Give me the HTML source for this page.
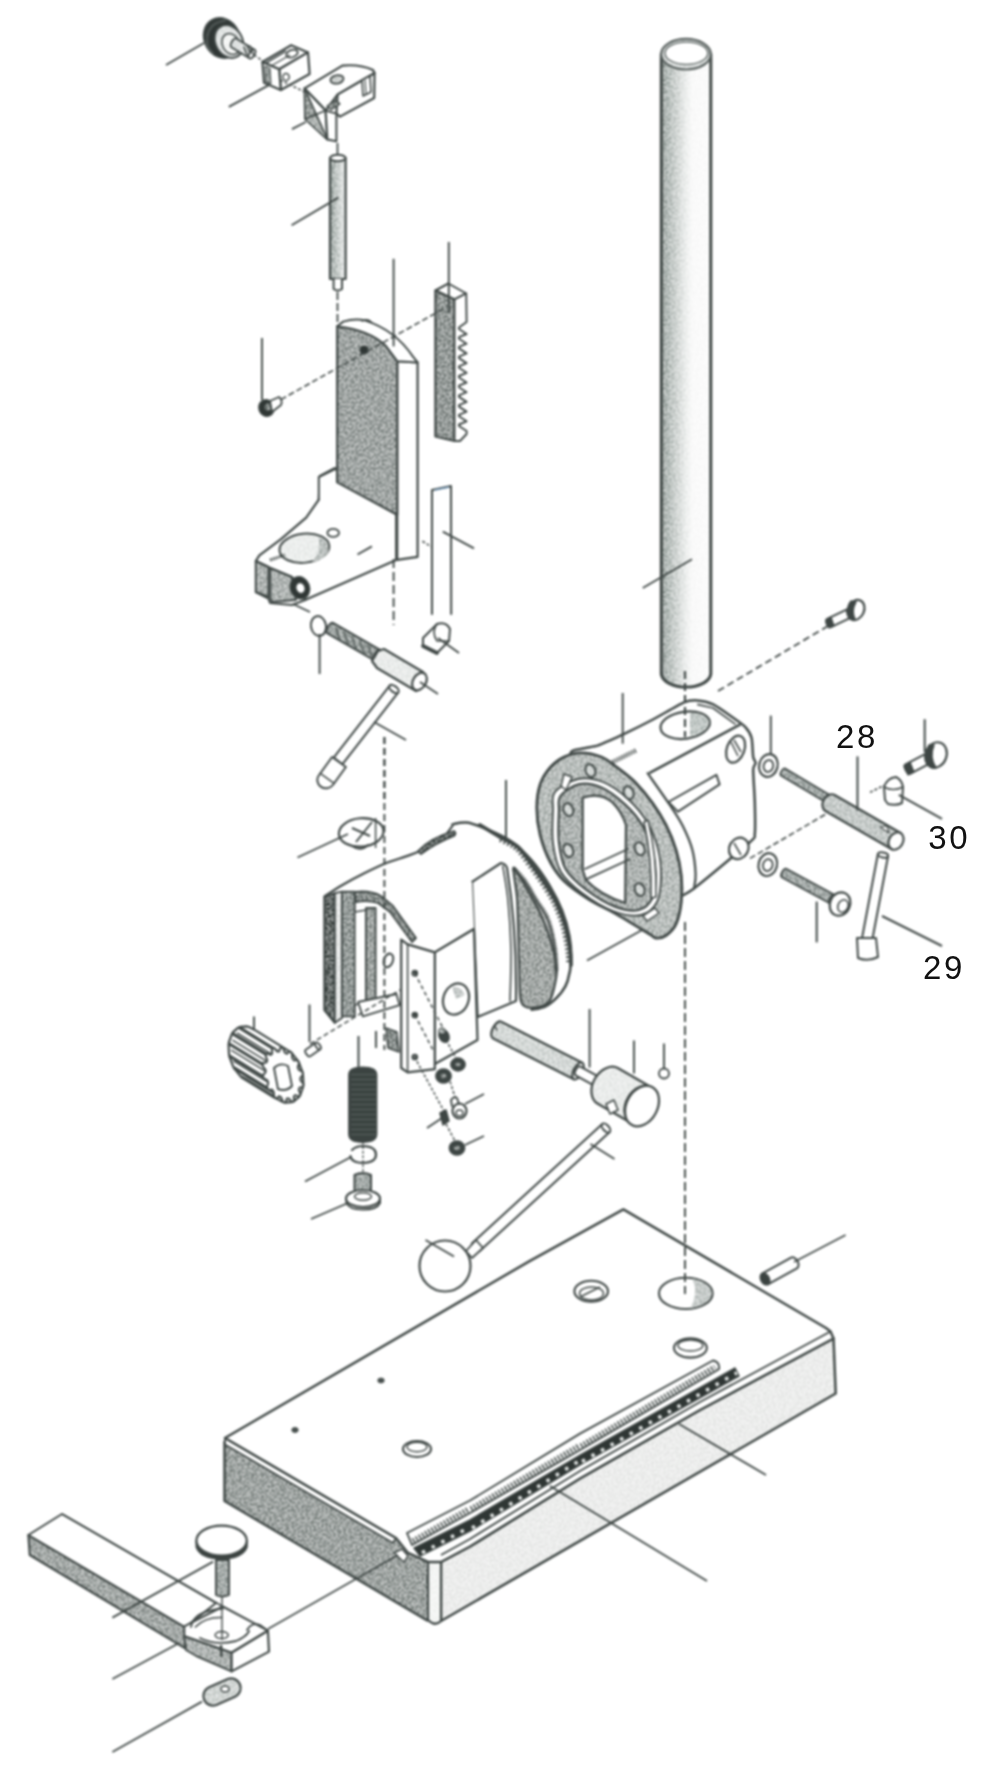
<!DOCTYPE html><html><head><meta charset="utf-8"><style>html,body{margin:0;padding:0;background:#fff;}svg{display:block}</style></head><body><svg width="1000" height="1775" viewBox="0 0 1000 1775"><defs>
<linearGradient id="gcol" x1="0" y1="0" x2="1" y2="0">
<stop offset="0" stop-color="#a4aba8"/><stop offset="0.12" stop-color="#b8bfbc"/><stop offset="0.32" stop-color="#d6dad8"/><stop offset="0.5" stop-color="#eff1f0"/><stop offset="0.62" stop-color="#fbfbfb"/><stop offset="1" stop-color="#fdfdfd"/>
</linearGradient>
<linearGradient id="grod" x1="0" y1="0" x2="1" y2="0">
<stop offset="0" stop-color="#a3aba8"/><stop offset="0.5" stop-color="#cdd2d0"/><stop offset="1" stop-color="#f2f3f3"/>
</linearGradient>
<filter id="fst" x="0%" y="0%" width="100%" height="100%" color-interpolation-filters="sRGB">
<feTurbulence type="fractalNoise" baseFrequency="0.5" numOctaves="2" seed="4" result="t0"/>
<feGaussianBlur in="t0" stdDeviation="0.6" result="t"/>
<feColorMatrix in="t" type="matrix" values="0 0 0 0 0  0 0 0 0 0  0 0 0 0 0  3.2 0 0 0 -1.45" result="m"/>
<feComponentTransfer in="SourceGraphic" result="lt"><feFuncR type="linear" slope="0.45" intercept="0.55"/><feFuncG type="linear" slope="0.45" intercept="0.55"/><feFuncB type="linear" slope="0.45" intercept="0.55"/></feComponentTransfer>
<feComposite in="lt" in2="m" operator="in" result="wm"/>
<feColorMatrix in="t" type="matrix" values="0 0 0 0 0  0 0 0 0 0  0 0 0 0 0  -3.2 0 0 0 1.75" result="m2"/>
<feComponentTransfer in="SourceGraphic" result="dk"><feFuncR type="linear" slope="1.7" intercept="-0.72"/><feFuncG type="linear" slope="1.7" intercept="-0.72"/><feFuncB type="linear" slope="1.7" intercept="-0.72"/></feComponentTransfer>
<feComposite in="dk" in2="m2" operator="in" result="dm"/>
<feMerge result="all"><feMergeNode in="SourceGraphic"/><feMergeNode in="wm"/><feMergeNode in="dm"/></feMerge>
<feComposite in="all" in2="SourceAlpha" operator="in"/>
</filter>
<filter id="gblur" x="0" y="0" width="1000" height="1775" filterUnits="userSpaceOnUse" color-interpolation-filters="sRGB"><feGaussianBlur stdDeviation="0.9"/></filter>
</defs><g filter="url(#gblur)"><path d="M661.3,54 L661.3,674 A24.8,14 0 0 0 710.8,674 L710.8,54 Z" fill="url(#gcol)" stroke="#404846" stroke-width="0" filter="url(#fst)" stroke-linejoin="round" stroke-linecap="round"/>
<path d="M661.3,54 L661.3,674 A24.8,14 0 0 0 710.8,674 L710.8,54 Z" fill="none" stroke="#404846" stroke-width="3"  stroke-linejoin="round" stroke-linecap="round"/>
<ellipse cx="686" cy="54.2" rx="24.8" ry="15.3" fill="#e3e6e5" stroke="none" filter="url(#fst)"/>
<ellipse cx="686" cy="54.2" rx="24.8" ry="15.3" fill="none" stroke="#58605e" stroke-width="2.2"/>
<ellipse cx="686.4" cy="53.2" rx="21.4" ry="11.2" fill="#fff" stroke="#6b7371" stroke-width="1.5"/>
<line x1="642.8" y1="588" x2="692" y2="559.2" fill="none" stroke="#404846" stroke-width="1.9"/>
<path d="M570.4,753.6 C571.2,748.8 578.4,749.7 581.6,748.8 C584.8,747.9 594.4,746.5 597.6,745.6 C600.8,744.7 605.8,742.1 608.8,740.8 C611.8,739.5 618.2,736.8 623.2,734.4 C628.2,732 644.9,723.7 652,720 C659.1,716.3 678.7,704.7 684,702.4 C689.3,700.1 693.8,700.2 697.2,700.4 C700.6,700.6 709.1,702.4 713.2,704.4 C717.3,706.4 728.7,714.6 732.4,717.2 C736.1,719.8 743,724.4 745.2,726.8 C747.4,729.2 750.7,734.5 751.6,738 C752.5,741.5 752.7,754.1 753.2,757 C753.7,759.9 755.6,761.5 755.6,763 C755.6,764.5 753.3,765.5 753.2,770 C753.1,774.5 754.6,794.5 754.8,802 C755,809.5 755.4,829.3 754.8,834 C754.2,838.7 757.1,835.7 750,842 C742.9,848.3 703.1,881.6 694,888.4 C684.9,895.2 677.1,898.1 672,900 C666.9,901.9 657.2,909.7 650,905 C642.8,900.3 618.8,873.4 610,860 C601.2,846.6 579.6,802.4 575,790 C570.4,777.6 569.6,758.4 570.4,753.6Z" fill="#fff" stroke="#404846" stroke-width="2.5"  stroke-linejoin="round" stroke-linecap="round"/>
<polyline points="697.2,704.4 713,708 735.6,724.4" fill="none" stroke="#404846" stroke-width="1.6"  stroke-linejoin="round"/>
<line x1="649.2" y1="773.2" x2="740.4" y2="724.4" fill="none" stroke="#404846" stroke-width="2.5"/>
<ellipse cx="685.2" cy="725.2" rx="24.8" ry="13.5" transform="rotate(-8 685.2 725.2)" fill="#fff" stroke="#404846" stroke-width="2.2"/>
<path d="M690,713 Q706,712 709,722 Q707,733 690,737 Z" fill="#c4cac8" stroke="none" filter="url(#fst)"/>
<line x1="685" y1="671" x2="685" y2="737" fill="none" stroke="#404846" stroke-width="2.2" stroke-dasharray="8,4"/>
<polygon points="668.4,802 716.4,774.8 719.6,784.4 678,811.6" fill="#fff" stroke="#404846" stroke-width="2"  stroke-linejoin="round"/>
<path d="M647.6,773.2 C651.3,778.5 664.1,796.4 670,805.2 C675.9,814 679.1,818.5 682.8,826 C686.5,833.5 690.3,842 692.4,850 C694.5,858 695.3,867.6 695.6,874 C695.9,880.4 694.3,886 694,888.4" fill="none" stroke="#404846" stroke-width="2.2"  stroke-linejoin="round" stroke-linecap="round"/>
<ellipse cx="735.6" cy="749.2" rx="8.8" ry="14" transform="rotate(20 735.6 749.2)" fill="#fff" stroke="#404846" stroke-width="2.2"/>
<polyline points="731,742 738,756" fill="none" stroke="#404846" stroke-width="1.5"  stroke-linejoin="round"/>
<polyline points="734,740 741,752" fill="none" stroke="#404846" stroke-width="1.5"  stroke-linejoin="round"/>
<ellipse cx="738.8" cy="848.4" rx="9.5" ry="11" transform="rotate(30 738.8 848.4)" fill="#fff" stroke="#404846" stroke-width="2.2"/>
<polyline points="734,843 741,855" fill="none" stroke="#404846" stroke-width="1.5"  stroke-linejoin="round"/>
<path d="M536.8,808 C536.8,799.5 537.9,791 540.2,784.2 C542.5,777.4 546.4,771.7 550.4,767.2 C554.4,762.7 558.9,759.4 564,757 C569.1,754.6 574.8,752.8 581,752.8 C587.2,752.8 595.4,754.6 601.4,757 C607.4,759.4 611,763 616.7,767.2 C622.4,771.5 629.5,776.5 635.4,782.5 C641.3,788.5 647.3,795.8 652.4,802.9 C657.5,810 662,817.1 666,825 C670,832.9 673.7,842 676.2,850.5 C678.8,859 680.4,867.5 681.3,876 C682.1,884.5 682.1,893.6 681.3,901.5 C680.4,909.4 678.8,917.9 676.2,923.6 C673.7,929.3 669.4,933.1 666,935.5 C662.6,937.9 658.6,938.3 655.8,938 C653,937.7 655.8,937.9 649,933.8 C642.2,929.7 624.9,919.1 615,913.4 C605.1,907.7 598,905.2 589.5,899.8 C581,894.4 570.5,887.2 564,881 C557.5,874.8 554.4,870 550.4,862.4 C546.4,854.8 542.5,844.3 540.2,835.2 C537.9,826.1 536.8,816.5 536.8,808Z" fill="#bdc2c0" stroke="none" filter="url(#fst)"/>
<path d="M536.8,808 C536.8,799.5 537.9,791 540.2,784.2 C542.5,777.4 546.4,771.7 550.4,767.2 C554.4,762.7 558.9,759.4 564,757 C569.1,754.6 574.8,752.8 581,752.8 C587.2,752.8 595.4,754.6 601.4,757 C607.4,759.4 611,763 616.7,767.2 C622.4,771.5 629.5,776.5 635.4,782.5 C641.3,788.5 647.3,795.8 652.4,802.9 C657.5,810 662,817.1 666,825 C670,832.9 673.7,842 676.2,850.5 C678.8,859 680.4,867.5 681.3,876 C682.1,884.5 682.1,893.6 681.3,901.5 C680.4,909.4 678.8,917.9 676.2,923.6 C673.7,929.3 669.4,933.1 666,935.5 C662.6,937.9 658.6,938.3 655.8,938 C653,937.7 655.8,937.9 649,933.8 C642.2,929.7 624.9,919.1 615,913.4 C605.1,907.7 598,905.2 589.5,899.8 C581,894.4 570.5,887.2 564,881 C557.5,874.8 554.4,870 550.4,862.4 C546.4,854.8 542.5,844.3 540.2,835.2 C537.9,826.1 536.8,816.5 536.8,808Z" fill="none" stroke="#404846" stroke-width="2.8"  stroke-linejoin="round" stroke-linecap="round"/>
<path d="M555,792 C559.2,786.8 570,780.7 578,779 C586,777.3 594.7,778.7 603,782 C611.3,785.3 620.7,792.3 628,799 C635.3,805.7 642,813.7 647,822 C652,830.3 655.7,839.8 658,849 C660.3,858.2 661.2,868.2 661,877 C660.8,885.8 660.3,895.7 657,902 C653.7,908.3 648.3,913.5 641,915 C633.7,916.5 622.8,914.7 613,911 C603.2,907.3 590.7,899.5 582,893 C573.3,886.5 565.8,880.3 561,872 C556.2,863.7 554.3,853.3 553,843 C551.7,832.7 552.7,818.5 553,810 C553.3,801.5 550.8,797.2 555,792Z" fill="#fff" stroke="#404846" stroke-width="1.8"  stroke-linejoin="round" stroke-linecap="round"/>
<path d="M560.6,796 C564,791.5 572.5,785.6 579.3,784.2 C586.1,782.8 593.8,784.2 601.4,787.6 C609,791 618.4,798.4 625.2,804.6 C632,810.8 637.7,817.4 642.2,825 C646.7,832.6 650.1,842 652.4,850.5 C654.7,859 655.8,868.1 655.8,876 C655.8,883.9 655.2,892.4 652.4,898.1 C649.6,903.8 645,908.6 638.8,910 C632.6,911.4 623.8,910 615,906.6 C606.2,903.2 594.3,895.8 586.1,889.6 C577.9,883.4 570.2,877.1 565.7,869.2 C561.2,861.3 560,851.6 558.9,842 C557.8,832.4 558.6,819.1 558.9,811.4 C559.2,803.7 557.2,800.5 560.6,796Z" fill="#b3b8b6" stroke="none" filter="url(#fst)"/>
<path d="M560.6,796 C564,791.5 572.5,785.6 579.3,784.2 C586.1,782.8 593.8,784.2 601.4,787.6 C609,791 618.4,798.4 625.2,804.6 C632,810.8 637.7,817.4 642.2,825 C646.7,832.6 650.1,842 652.4,850.5 C654.7,859 655.8,868.1 655.8,876 C655.8,883.9 655.2,892.4 652.4,898.1 C649.6,903.8 645,908.6 638.8,910 C632.6,911.4 623.8,910 615,906.6 C606.2,903.2 594.3,895.8 586.1,889.6 C577.9,883.4 570.2,877.1 565.7,869.2 C561.2,861.3 560,851.6 558.9,842 C557.8,832.4 558.6,819.1 558.9,811.4 C559.2,803.7 557.2,800.5 560.6,796Z" fill="none" stroke="#404846" stroke-width="2.2"  stroke-linejoin="round" stroke-linecap="round"/>
<path d="M582.7,797.8 Q600,792 612,802 Q622,812 626,825 L625.2,903 Q600,895 586,880 L582.7,870 Z" fill="#fff" stroke="#404846" stroke-width="2.2"  stroke-linejoin="round" stroke-linecap="round"/>
<line x1="584.4" y1="869.2" x2="628.6" y2="848.8" fill="none" stroke="#404846" stroke-width="1.8"/>
<line x1="586" y1="879.4" x2="630.3" y2="859" fill="none" stroke="#404846" stroke-width="1.8"/>
<ellipse cx="590.4" cy="770.6" rx="4.8" ry="6.6" transform="rotate(-20 590.4 770.6)" fill="#d8dcda" stroke="none" filter="url(#fst)"/>
<ellipse cx="590.4" cy="770.6" rx="4.8" ry="6.6" transform="rotate(-20 590.4 770.6)" fill="none" stroke="#404846" stroke-width="2"/>
<ellipse cx="628.6" cy="792.7" rx="4.8" ry="6.6" transform="rotate(-20 628.6 792.7)" fill="#d8dcda" stroke="none" filter="url(#fst)"/>
<ellipse cx="628.6" cy="792.7" rx="4.8" ry="6.6" transform="rotate(-20 628.6 792.7)" fill="none" stroke="#404846" stroke-width="2"/>
<ellipse cx="568.3" cy="809.7" rx="4.8" ry="6.6" transform="rotate(-20 568.3 809.7)" fill="#d8dcda" stroke="none" filter="url(#fst)"/>
<ellipse cx="568.3" cy="809.7" rx="4.8" ry="6.6" transform="rotate(-20 568.3 809.7)" fill="none" stroke="#404846" stroke-width="2"/>
<ellipse cx="568.3" cy="850.5" rx="4.8" ry="6.6" transform="rotate(-20 568.3 850.5)" fill="#d8dcda" stroke="none" filter="url(#fst)"/>
<ellipse cx="568.3" cy="850.5" rx="4.8" ry="6.6" transform="rotate(-20 568.3 850.5)" fill="none" stroke="#404846" stroke-width="2"/>
<ellipse cx="639.7" cy="848.8" rx="4.8" ry="6.6" transform="rotate(-20 639.7 848.8)" fill="#d8dcda" stroke="none" filter="url(#fst)"/>
<ellipse cx="639.7" cy="848.8" rx="4.8" ry="6.6" transform="rotate(-20 639.7 848.8)" fill="none" stroke="#404846" stroke-width="2"/>
<ellipse cx="639.7" cy="889.6" rx="4.8" ry="6.6" transform="rotate(-20 639.7 889.6)" fill="#d8dcda" stroke="none" filter="url(#fst)"/>
<ellipse cx="639.7" cy="889.6" rx="4.8" ry="6.6" transform="rotate(-20 639.7 889.6)" fill="none" stroke="#404846" stroke-width="2"/>
<path d="M648,820 Q657,855 656,897 L651,898 Q652,858 644,822 Z" fill="#fff" stroke="#404846" stroke-width="1.6"  stroke-linejoin="round" stroke-linecap="round"/>
<path d="M564,774 L572,777 L566,790 L561,786Z" fill="#fff" stroke="#404846" stroke-width="1.5"  stroke-linejoin="round" stroke-linecap="round"/>
<path d="M643,916 L655,908 L659,913 L647,921Z" fill="#fff" stroke="#404846" stroke-width="1.5"  stroke-linejoin="round" stroke-linecap="round"/>
<line x1="622.7" y1="693" x2="622.7" y2="743.7" fill="none" stroke="#404846" stroke-width="1.9"/>
<line x1="587" y1="960.5" x2="643" y2="929.5" fill="none" stroke="#404846" stroke-width="1.9"/>
<line x1="770.8" y1="715.6" x2="770.8" y2="754" fill="none" stroke="#404846" stroke-width="1.9"/>
<line x1="610.4" y1="763.2" x2="636" y2="750.4" fill="none" stroke="#404846" stroke-width="4.5" stroke-dasharray="1.4,1.3"/>
<ellipse cx="768.4" cy="765.5" rx="9.2" ry="11.5" transform="rotate(15 768.4 765.5)" fill="#fff" stroke="#404846" stroke-width="2.2"/>
<ellipse cx="768.4" cy="766" rx="4.8" ry="6" transform="rotate(15 768.4 766)" fill="#fff" stroke="#404846" stroke-width="1.8"/>
<ellipse cx="767.8" cy="864.6" rx="9.2" ry="11.5" transform="rotate(15 767.8 864.6)" fill="#fff" stroke="#404846" stroke-width="2.2"/>
<ellipse cx="767.8" cy="865.1" rx="4.8" ry="6" transform="rotate(15 767.8 865.1)" fill="#fff" stroke="#404846" stroke-width="1.8"/>
<line x1="166" y1="65" x2="204" y2="43" fill="none" stroke="#404846" stroke-width="1.9"/>
<ellipse cx="222" cy="38" rx="17.5" ry="20.5" transform="rotate(-28 222 38)" fill="#2f3634" stroke="#404846" stroke-width="2"/>
<line x1="213.3" y1="52.3" x2="211.2" y2="53.9" fill="none" stroke="#6d7573" stroke-width="1.1"/>
<line x1="211.8" y1="50.5" x2="209.8" y2="52.1" fill="none" stroke="#6d7573" stroke-width="1.1"/>
<line x1="210.5" y1="48.7" x2="208.4" y2="50.2" fill="none" stroke="#6d7573" stroke-width="1.1"/>
<line x1="209.5" y1="46.9" x2="207.1" y2="48.1" fill="none" stroke="#6d7573" stroke-width="1.1"/>
<line x1="208.7" y1="45" x2="206.2" y2="45.6" fill="none" stroke="#6d7573" stroke-width="1.1"/>
<line x1="208.4" y1="42.9" x2="205.8" y2="43.1" fill="none" stroke="#6d7573" stroke-width="1.1"/>
<line x1="208.4" y1="40.7" x2="205.8" y2="40.7" fill="none" stroke="#6d7573" stroke-width="1.1"/>
<line x1="208.4" y1="38.5" x2="205.9" y2="38.3" fill="none" stroke="#6d7573" stroke-width="1.1"/>
<line x1="208.7" y1="36.3" x2="206.1" y2="35.9" fill="none" stroke="#6d7573" stroke-width="1.1"/>
<line x1="209.1" y1="34.1" x2="206.6" y2="33.6" fill="none" stroke="#6d7573" stroke-width="1.1"/>
<line x1="209.7" y1="32.1" x2="207.3" y2="31.2" fill="none" stroke="#6d7573" stroke-width="1.1"/>
<line x1="210.7" y1="30.2" x2="208.4" y2="28.9" fill="none" stroke="#6d7573" stroke-width="1.1"/>
<line x1="211.9" y1="28.5" x2="209.9" y2="26.8" fill="none" stroke="#6d7573" stroke-width="1.1"/>
<line x1="213.3" y1="26.9" x2="211.5" y2="25" fill="none" stroke="#6d7573" stroke-width="1.1"/>
<line x1="215" y1="25.5" x2="213.4" y2="23.4" fill="none" stroke="#6d7573" stroke-width="1.1"/>
<line x1="216.7" y1="24.4" x2="215.6" y2="22.1" fill="none" stroke="#6d7573" stroke-width="1.1"/>
<line x1="218.7" y1="23.6" x2="217.8" y2="21.1" fill="none" stroke="#6d7573" stroke-width="1.1"/>
<line x1="220.8" y1="22.9" x2="220.1" y2="20.4" fill="none" stroke="#6d7573" stroke-width="1.1"/>
<line x1="223" y1="22.3" x2="222.4" y2="19.8" fill="none" stroke="#6d7573" stroke-width="1.1"/>
<line x1="225.3" y1="21.7" x2="224.5" y2="19.2" fill="none" stroke="#6d7573" stroke-width="1.1"/>
<ellipse cx="229" cy="41.5" rx="13.5" ry="17.2" transform="rotate(-28 229 41.5)" fill="#e3e6e5" stroke="none" filter="url(#fst)"/>
<ellipse cx="229" cy="41.5" rx="13.5" ry="17.2" transform="rotate(-28 229 41.5)" fill="none" stroke="#404846" stroke-width="1.9"/>
<ellipse cx="231" cy="44" rx="8.5" ry="11" transform="rotate(-28 231 44)" fill="#f6f7f6" stroke="none" filter="url(#fst)"/>
<ellipse cx="231" cy="44" rx="8.5" ry="11" transform="rotate(-28 231 44)" fill="none" stroke="#404846" stroke-width="1.5"/>
<path d="M231.4,47.3 L249.4,58.3 L254.6,49.7 L236.6,38.7 A2.5,5 31.4 0 0 231.4,47.3Z" fill="#e3e6e5" stroke="none" filter="url(#fst)"/>
<path d="M231.4,47.3 L249.4,58.3 L254.6,49.7 L236.6,38.7 A2.5,5 31.4 0 0 231.4,47.3Z" fill="none" stroke="#404846" stroke-width="1.8"  stroke-linejoin="round" stroke-linecap="round"/>
<ellipse cx="252" cy="54" rx="2.5" ry="5" transform="rotate(31.4 252 54)" fill="#fff" stroke="#404846" stroke-width="1.8"/>
<path d="M244,47 L247,55 M247,45 L250,53 M250,46 L253,54" fill="none" stroke="#404846" stroke-width="1.6"  stroke-linejoin="round" stroke-linecap="round"/>
<line x1="254" y1="55" x2="263" y2="61" fill="none" stroke="#404846" stroke-width="1.5" stroke-dasharray="3,2"/>
<polygon points="262.4,62 291.2,45.2 308,52.4 279.2,69.2" fill="#fff" stroke="#404846" stroke-width="2.2"  stroke-linejoin="round"/>
<polygon points="279.2,69.2 308,52.4 309.6,74 280.8,90" fill="#fff" stroke="#404846" stroke-width="2.2"  stroke-linejoin="round"/>
<polygon points="262.4,62 279.2,69.2 280.8,90 264,82.8" fill="#fff" stroke="#404846" stroke-width="2.2"  stroke-linejoin="round"/>
<polygon points="265,66 270,68 271,84 266,82" fill="#9aa09e" stroke="none" filter="url(#fst)"/>
<polygon points="265,66 270,68 271,84 266,82" fill="none" stroke="#404846" stroke-width="1"  stroke-linejoin="round"/>
<ellipse cx="292" cy="53.6" rx="6" ry="3.6" transform="rotate(-20 292 53.6)" fill="#fff" stroke="#404846" stroke-width="1.8"/>
<line x1="266" y1="63" x2="286" y2="51" fill="none" stroke="#404846" stroke-width="1.5"/>
<line x1="271" y1="66" x2="290" y2="55" fill="none" stroke="#404846" stroke-width="1.2"/>
<ellipse cx="286" cy="77" rx="3.2" ry="3.6" fill="#fff" stroke="#404846" stroke-width="1.5"/>
<line x1="228.8" y1="106.8" x2="268.8" y2="85.2" fill="none" stroke="#404846" stroke-width="1.9"/>
<line x1="280" y1="80" x2="305" y2="92" fill="none" stroke="#404846" stroke-width="1.5" stroke-dasharray="3,2"/>
<polygon points="337.6,94.4 374.5,73 374.2,98 340,116.6 336.4,113.6" fill="#fff" stroke="#404846" stroke-width="2.2"  stroke-linejoin="round"/>
<path d="M304.6,88.4 L342.4,65.6 Q360,64 373,70 L374.5,73 L337.6,94.4 L325.6,110.6 Z" fill="#fff" stroke="#404846" stroke-width="2.2"  stroke-linejoin="round" stroke-linecap="round"/>
<polygon points="362,80 370,76 371,92 363,96" fill="#fff" stroke="#404846" stroke-width="1.6"  stroke-linejoin="round"/>
<line x1="365" y1="80" x2="366" y2="94" fill="none" stroke="#404846" stroke-width="1.2"/>
<polygon points="304.6,88.4 325.6,110.6 327.4,139.4 305.2,119" fill="#fff" stroke="#404846" stroke-width="2.2"  stroke-linejoin="round"/>
<polygon points="304.6,88.4 316,113.9 305.2,119" fill="#a2a7a5" stroke="none" filter="url(#fst)"/>
<polygon points="304.6,88.4 316,113.9 305.2,119" fill="none" stroke="#404846" stroke-width="1"  stroke-linejoin="round"/>
<polygon points="305.2,119 316,113.9 327.4,139.4" fill="#b5bab8" stroke="none" filter="url(#fst)"/>
<polygon points="305.2,119 316,113.9 327.4,139.4" fill="none" stroke="#404846" stroke-width="1"  stroke-linejoin="round"/>
<line x1="304.6" y1="88.4" x2="327.4" y2="139.4" fill="none" stroke="#404846" stroke-width="1.6"/>
<line x1="325.6" y1="110.6" x2="305.2" y2="119" fill="none" stroke="#404846" stroke-width="1.6"/>
<polygon points="325.6,110.6 336.4,113.6 336.4,141.2 327.4,139.4" fill="#fff" stroke="#404846" stroke-width="2"  stroke-linejoin="round"/>
<polygon points="327,106 336,100 340,104 331,110" fill="#8a908e" stroke="none" filter="url(#fst)"/>
<polygon points="327,106 336,100 340,104 331,110" fill="none" stroke="#404846" stroke-width="1.2"  stroke-linejoin="round"/>
<ellipse cx="337" cy="79.4" rx="6.6" ry="4.2" transform="rotate(-10 337 79.4)" fill="#d0d4d2" stroke="none" filter="url(#fst)"/>
<ellipse cx="337" cy="79.4" rx="6.6" ry="4.2" transform="rotate(-10 337 79.4)" fill="none" stroke="#404846" stroke-width="1.8"/>
<line x1="292" y1="129.2" x2="305.8" y2="122" fill="none" stroke="#404846" stroke-width="1.9"/>
<line x1="337.5" y1="143" x2="337.5" y2="157" fill="none" stroke="#404846" stroke-width="1.8"/>
<path d="M330,158 L330,279 L345.6,279 L345.6,158 Z" fill="url(#grod)" stroke="#404846" stroke-width="0" filter="url(#fst)" stroke-linejoin="round" stroke-linecap="round"/>
<path d="M330,158 L330,279 L345.6,279 L345.6,158 Z" fill="none" stroke="#404846" stroke-width="2.2"  stroke-linejoin="round" stroke-linecap="round"/>
<ellipse cx="337.8" cy="158" rx="7.8" ry="3.2" fill="#fff" stroke="#404846" stroke-width="2"/>
<path d="M333.6,279 L333.6,289 Q337.8,292 342,289 L342,279" fill="#fff" stroke="#404846" stroke-width="2"  stroke-linejoin="round" stroke-linecap="round"/>
<line x1="291.6" y1="225.2" x2="338.4" y2="197.6" fill="none" stroke="#404846" stroke-width="1.9"/>
<line x1="337.5" y1="292" x2="337.5" y2="326" fill="none" stroke="#404846" stroke-width="1.8" stroke-dasharray="8,3"/>
<polygon points="435.4,290.5 448.4,283.5 466.2,293.5 454.5,299.5" fill="#fff" stroke="#404846" stroke-width="2"  stroke-linejoin="round"/>
<polygon points="435.4,290.5 454.5,299.5 454.5,441 435.4,436.5" fill="#9ba09e" stroke="none" filter="url(#fst)"/>
<polygon points="435.4,290.5 454.5,299.5 454.5,441 435.4,436.5" fill="none" stroke="#404846" stroke-width="2.2"  stroke-linejoin="round"/>
<polygon points="454.5,299.5 466.2,293.5 466.6,322 459,327.5 459,329 466.6,334 459,337.2 459,338.7 466.6,343.7 459,346.9 459,348.4 466.6,353.4 459,356.6 459,358.1 466.6,363.1 459,366.3 459,367.8 466.6,372.8 459,376 459,377.5 466.6,382.5 459,385.7 459,387.2 466.6,392.2 459,395.4 459,396.9 466.6,401.9 459,405.1 459,406.6 466.6,411.6 459,414.8 459,416.3 466.6,421.3 459,424.5 459,426 466.6,431 466.6,434 460,441 454.5,441" fill="#fff" stroke="#404846" stroke-width="1.9"  stroke-linejoin="round"/>
<polygon points="318.8,499.6 306.2,517.6 281,539.2 259.4,555.4 255.8,561 268.4,567 270.2,568 291.8,577 299,585 305,600 396.2,559.9 396.2,514 335,479.8 335,468 320,476" fill="#fff" stroke="#404846" stroke-width="2.2"  stroke-linejoin="round"/>
<path d="M318.8,499.6 L318.8,477 L335,469 L337,470 L337,482" fill="#fff" stroke="#404846" stroke-width="2"  stroke-linejoin="round" stroke-linecap="round"/>
<polygon points="255.8,561 268.4,567 268.4,597 255.8,592" fill="#b4b9b7" stroke="none" filter="url(#fst)"/>
<polygon points="255.8,561 268.4,567 268.4,597 255.8,592" fill="none" stroke="#404846" stroke-width="2"  stroke-linejoin="round"/>
<polygon points="270.2,568 291.8,577 296,600 272,602 270.2,598" fill="#b4b9b7" stroke="none" filter="url(#fst)"/>
<polygon points="270.2,568 291.8,577 296,600 272,602 270.2,598" fill="none" stroke="#404846" stroke-width="2"  stroke-linejoin="round"/>
<path d="M255.8,592 L268.4,598.6 L270,603 L292,605 L305,600" fill="none" stroke="#404846" stroke-width="2"  stroke-linejoin="round" stroke-linecap="round"/>
<ellipse cx="299.9" cy="587.8" rx="9.5" ry="11.2" transform="rotate(-20 299.9 587.8)" fill="#2f3634" stroke="#404846" stroke-width="1.5"/>
<ellipse cx="300.5" cy="588" rx="4.5" ry="5.5" transform="rotate(-20 300.5 588)" fill="#fff" stroke="#404846" stroke-width="1.2"/>
<ellipse cx="304.4" cy="548.2" rx="25" ry="14.5" transform="rotate(-6 304.4 548.2)" fill="#eef0ef" stroke="none" filter="url(#fst)"/>
<ellipse cx="304.4" cy="548.2" rx="25" ry="14.5" transform="rotate(-6 304.4 548.2)" fill="none" stroke="#404846" stroke-width="2"/>
<path d="M318,536 Q331,542 328,553 Q322,561 312,562 Q322,550 318,536Z" fill="#c0c5c3" stroke="none" filter="url(#fst)"/>
<line x1="270" y1="560" x2="285" y2="555" fill="none" stroke="#404846" stroke-width="3.1" stroke-dasharray="1.5,1"/>
<ellipse cx="333.2" cy="532.9" rx="5.8" ry="4" fill="#fff" stroke="#404846" stroke-width="1.8"/>
<line x1="357.5" y1="554.5" x2="371.9" y2="546.4" fill="none" stroke="#404846" stroke-width="1.9"/>
<path d="M397.2,361.2 L417.6,362.4 L417.6,556.8 L397.2,559.9 Z" fill="#fff" stroke="#404846" stroke-width="2.2"  stroke-linejoin="round" stroke-linecap="round"/>
<path d="M337.2,326.4 Q370,330 386,346 L397.2,361.2 L397.2,514.8 L337.2,482.4 Z" fill="#a5aaa8" stroke="none" filter="url(#fst)"/>
<path d="M337.2,326.4 Q370,330 386,346 L397.2,361.2 L397.2,514.8 L337.2,482.4 Z" fill="none" stroke="#404846" stroke-width="2.2"  stroke-linejoin="round" stroke-linecap="round"/>
<path d="M337.2,326.4 L343.2,321.6 Q355,318 364.8,320.4 Q395,330 412.8,356.4 L417.6,362.4 L397.2,361.2 L386,346 Q370,330 337.2,326.4Z" fill="#fff" stroke="#404846" stroke-width="2"  stroke-linejoin="round" stroke-linecap="round"/>
<path d="M362,321 Q368,318 372,323" fill="none" stroke="#404846" stroke-width="1.5"  stroke-linejoin="round" stroke-linecap="round"/>
<circle cx="364" cy="350" r="4" fill="#2f3634" stroke="#404846" stroke-width="1.2"/>
<line x1="280.8" y1="399.6" x2="446.4" y2="307.2" fill="none" stroke="#404846" stroke-width="1.6" stroke-dasharray="6,3"/>
<ellipse cx="266.4" cy="408" rx="7.5" ry="8.4" transform="rotate(-20 266.4 408)" fill="#2f3634" stroke="#404846" stroke-width="1.5"/>
<ellipse cx="268" cy="407" rx="3.5" ry="4" fill="#8a908e" stroke="none" filter="url(#fst)"/>
<ellipse cx="268" cy="407" rx="3.5" ry="4" fill="none" stroke="#404846" stroke-width="1"/>
<path d="M270,401 L279,397 Q283,400 281,405 L272,412Z" fill="#fff" stroke="#404846" stroke-width="1.8"  stroke-linejoin="round" stroke-linecap="round"/>
<line x1="262" y1="338" x2="262" y2="400" fill="none" stroke="#404846" stroke-width="1.9"/>
<line x1="393.6" y1="258.8" x2="393.6" y2="346.4" fill="none" stroke="#404846" stroke-width="1.9"/>
<line x1="448.8" y1="242" x2="448.8" y2="312.8" fill="none" stroke="#404846" stroke-width="1.9"/>
<line x1="393.6" y1="559" x2="393.6" y2="625" fill="none" stroke="#404846" stroke-width="1.9" stroke-dasharray="9,4"/>
<line x1="293" y1="604" x2="310" y2="612" fill="none" stroke="#404846" stroke-width="1.9"/>
<path d="M432,614 L432,490 L451,486 L451.2,614" fill="#fff" stroke="#404846" stroke-width="2"  stroke-linejoin="round" stroke-linecap="round"/>
<line x1="434.5" y1="490" x2="449" y2="487" fill="none" stroke="#6a8fb0" stroke-width="1.5"/>
<line x1="442.8" y1="531.6" x2="474" y2="548.4" fill="none" stroke="#404846" stroke-width="1.9"/>
<line x1="422.4" y1="541.2" x2="432" y2="547.2" fill="none" stroke="#404846" stroke-width="1.6" stroke-dasharray="3,2"/>
<ellipse cx="318.5" cy="626" rx="7.5" ry="10" transform="rotate(-10 318.5 626)" fill="none" stroke="#404846" stroke-width="2"/>
<line x1="319.6" y1="634" x2="319.6" y2="674" fill="none" stroke="#404846" stroke-width="1.9"/>
<path d="M327,633.2 L374,660.2 L380,649.8 L333,622.8 A2.5,6 29.9 0 0 327,633.2Z" fill="#a6acaa" stroke="none" filter="url(#fst)"/>
<path d="M327,633.2 L374,660.2 L380,649.8 L333,622.8 A2.5,6 29.9 0 0 327,633.2Z" fill="none" stroke="#404846" stroke-width="2"  stroke-linejoin="round" stroke-linecap="round"/>
<ellipse cx="377" cy="655" rx="2.5" ry="6" transform="rotate(29.9 377 655)" fill="#fff" stroke="#404846" stroke-width="2"/>
<path d="M336,628 L340,640 M344,632 L348,644 M352,637 L356,649 M360,641 L364,653 M368,646 L372,657" fill="none" stroke="#505856" stroke-width="1.4"  stroke-linejoin="round" stroke-linecap="round"/>
<path d="M372,661 L378,651 L384,649 L423,672 L416,691 L377,668Z" fill="#eceeed" stroke="none" filter="url(#fst)"/>
<path d="M372,661 L378,651 L384,649 L423,672 L416,691 L377,668Z" fill="none" stroke="#404846" stroke-width="2.2"  stroke-linejoin="round" stroke-linecap="round"/>
<ellipse cx="419.5" cy="681.5" rx="6.5" ry="9.5" transform="rotate(30 419.5 681.5)" fill="#fff" stroke="#404846" stroke-width="2.2"/>
<line x1="420" y1="682" x2="438" y2="694" fill="none" stroke="#404846" stroke-width="1.9"/>
<path d="M423,638 L437,624 Q446,621 450,629 L449,641 L437,653 L423,646 Z" fill="#fff" stroke="#404846" stroke-width="2"  stroke-linejoin="round" stroke-linecap="round"/>
<path d="M437,624 Q431,632 437,641 L449,641" fill="none" stroke="#404846" stroke-width="1.6"  stroke-linejoin="round" stroke-linecap="round"/>
<path d="M423,646 L437,653" fill="none" stroke="#404846" stroke-width="3.8"  stroke-linejoin="round" stroke-linecap="round"/>
<line x1="438" y1="638" x2="459" y2="653" fill="none" stroke="#404846" stroke-width="1.9"/>
<path d="M342.3,764.4 L398.3,692.4 L389.7,685.6 L333.7,757.6Z" fill="#fff" stroke="#404846" stroke-width="2"  stroke-linejoin="round" stroke-linecap="round"/>
<ellipse cx="394" cy="689" rx="3" ry="5.5" transform="rotate(-52.1 394 689)" fill="#fff" stroke="#404846" stroke-width="2"/>
<path d="M345.9,767.0 L332.1,757.0 L319.1,775.0 A8.5,8.1 0.0 0 0 332.9,785.0 Z" fill="#fff" stroke="#404846" stroke-width="2"  stroke-linejoin="round" stroke-linecap="round"/>
<line x1="320.3" y1="773.4" x2="334.1" y2="783.4" fill="none" stroke="#404846" stroke-width="1.5"/>
<line x1="374" y1="722" x2="406" y2="740" fill="none" stroke="#404846" stroke-width="1.9"/>
<line x1="384.4" y1="737" x2="384.4" y2="800" fill="none" stroke="#404846" stroke-width="1.9" stroke-dasharray="7,4"/>
<line x1="718" y1="691" x2="828" y2="626" fill="none" stroke="#404846" stroke-width="1.8" stroke-dasharray="7,4"/>
<path d="M830.9,627.1 L851.9,617.1 L848.1,608.9 L827.1,618.9 A2.5,4.5 -25.5 0 0 830.9,627.1Z" fill="#fff" stroke="#404846" stroke-width="1.9"  stroke-linejoin="round" stroke-linecap="round"/>
<ellipse cx="850" cy="613" rx="2.5" ry="4.5" transform="rotate(-25.5 850 613)" fill="#fff" stroke="#404846" stroke-width="1.9"/>
<path d="M826,620 L829,628 L834,626 L831,617Z" fill="#3e4644" stroke="#404846" stroke-width="1.2"  stroke-linejoin="round" stroke-linecap="round"/>
<ellipse cx="856" cy="610" rx="8" ry="10.5" transform="rotate(25 856 610)" fill="#fff" stroke="#404846" stroke-width="2.2"/>
<path d="M851,601 Q846,607 849,616 Q851,620 855,619 Q851,611 856,602Z" fill="#3e4644" stroke="#404846" stroke-width="1.5"  stroke-linejoin="round" stroke-linecap="round"/>
<path d="M780.9,775.6 L827.9,803.6 L832.1,796.4 L785.1,768.4 A2,4.2 30.8 0 0 780.9,775.6Z" fill="#a9afad" stroke="none" filter="url(#fst)"/>
<path d="M780.9,775.6 L827.9,803.6 L832.1,796.4 L785.1,768.4 A2,4.2 30.8 0 0 780.9,775.6Z" fill="none" stroke="#404846" stroke-width="1.8"  stroke-linejoin="round" stroke-linecap="round"/>
<ellipse cx="830" cy="800" rx="2" ry="4.2" transform="rotate(30.8 830 800)" fill="#fff" stroke="#404846" stroke-width="1.8"/>
<path d="M825.4,811 L891.4,849 L900.6,833 L834.6,795 A7,9.2 29.9 0 0 825.4,811Z" fill="#c9cecc" stroke="none" filter="url(#fst)"/>
<path d="M825.4,811 L891.4,849 L900.6,833 L834.6,795 A7,9.2 29.9 0 0 825.4,811Z" fill="none" stroke="#404846" stroke-width="2.2"  stroke-linejoin="round" stroke-linecap="round"/>
<ellipse cx="896" cy="841" rx="7" ry="9.2" transform="rotate(29.9 896 841)" fill="#fff" stroke="#404846" stroke-width="2.2"/>
<path d="M880,827 L887,826 L889,833Z" fill="#fff" stroke="#404846" stroke-width="1.2"  stroke-linejoin="round" stroke-linecap="round"/>
<line x1="857.5" y1="756.4" x2="857.5" y2="810.4" fill="none" stroke="#404846" stroke-width="2"/>
<path d="M910.5,773.7 L931.5,762.7 L926.5,753.3 L905.5,764.3 A2.6,5.3 -27.6 0 0 910.5,773.7Z" fill="#fff" stroke="#404846" stroke-width="1.9"  stroke-linejoin="round" stroke-linecap="round"/>
<ellipse cx="929" cy="758" rx="2.6" ry="5.3" transform="rotate(-27.6 929 758)" fill="#fff" stroke="#404846" stroke-width="1.9"/>
<path d="M904,766 L908,775 L914,772 L910,762Z" fill="#3e4644" stroke="#404846" stroke-width="1.2"  stroke-linejoin="round" stroke-linecap="round"/>
<ellipse cx="936" cy="755" rx="10.5" ry="13" transform="rotate(20 936 755)" fill="#fff" stroke="#404846" stroke-width="2.2"/>
<path d="M929,745 Q924,754 928,764 Q931,769 936,768 Q929,757 934,745Z" fill="#3e4644" stroke="#404846" stroke-width="1.5"  stroke-linejoin="round" stroke-linecap="round"/>
<line x1="924.7" y1="719.2" x2="924.7" y2="752" fill="none" stroke="#404846" stroke-width="2"/>
<path d="M884,787 Q887,778 896,777 Q902,780 903,787 L902,803 Q896,806 888,804 L885,800Z" fill="#fff" stroke="#404846" stroke-width="2"  stroke-linejoin="round" stroke-linecap="round"/>
<path d="M884,787 Q893,792 903,787" fill="none" stroke="#404846" stroke-width="1.5"  stroke-linejoin="round" stroke-linecap="round"/>
<line x1="870" y1="792.4" x2="884.4" y2="785.2" fill="none" stroke="#404846" stroke-width="1.6" stroke-dasharray="3,2"/>
<line x1="898.8" y1="794.8" x2="942" y2="818.8" fill="none" stroke="#404846" stroke-width="2"/>
<line x1="750" y1="858.4" x2="826" y2="814" fill="none" stroke="#404846" stroke-width="1.6" stroke-dasharray="6,3"/>
<path d="M781.7,877.2 L829.7,903.2 L834.3,894.8 L786.3,868.8 A2.2,4.8 28.4 0 0 781.7,877.2Z" fill="#a9afad" stroke="none" filter="url(#fst)"/>
<path d="M781.7,877.2 L829.7,903.2 L834.3,894.8 L786.3,868.8 A2.2,4.8 28.4 0 0 781.7,877.2Z" fill="none" stroke="#404846" stroke-width="1.8"  stroke-linejoin="round" stroke-linecap="round"/>
<ellipse cx="832" cy="899" rx="2.2" ry="4.8" transform="rotate(28.4 832 899)" fill="#fff" stroke="#404846" stroke-width="1.8"/>
<ellipse cx="840" cy="904" rx="10" ry="12" transform="rotate(25 840 904)" fill="#fff" stroke="#404846" stroke-width="2.2"/>
<ellipse cx="843" cy="906" rx="5" ry="6.5" transform="rotate(25 843 906)" fill="#fff" stroke="#404846" stroke-width="1.6"/>
<line x1="816.7" y1="901.6" x2="816.7" y2="942.4" fill="none" stroke="#404846" stroke-width="2"/>
<path d="M871.1,946 L888.1,856 L877.9,854 L860.9,944 A2.5,5.2 -79.3 0 0 871.1,946Z" fill="#fff" stroke="#404846" stroke-width="2"  stroke-linejoin="round" stroke-linecap="round"/>
<ellipse cx="883" cy="855" rx="2.5" ry="5.2" transform="rotate(-79.3 883 855)" fill="#fff" stroke="#404846" stroke-width="2"/>
<path d="M857,938 L876,938 L878,957 Q868,962 858,958Z" fill="#fff" stroke="#404846" stroke-width="2"  stroke-linejoin="round" stroke-linecap="round"/>
<line x1="882" y1="916" x2="942" y2="946" fill="none" stroke="#404846" stroke-width="2"/>
<path d="M324.4,896.4 C326.2,883.9 338.2,887.4 342,885.2 C345.8,883 358.3,876.2 362.8,874 C367.3,871.8 382.5,864.6 386.8,862.8 C391.1,861 402.7,857.7 406,856.4 C409.3,855.1 416.6,852.4 420,850 C423.4,847.6 436.8,834.6 440,832 C443.2,829.4 449.7,825.3 452.4,824.4 C455.1,823.5 463.2,822.1 466.8,822.6 C470.4,823.1 484.1,828 488.4,829.8 C492.7,831.6 505.7,837.5 510,840.6 C514.3,843.7 527.6,855.9 531.6,860.4 C535.6,864.9 546.5,880.6 549.6,885.6 C552.7,890.6 560.2,905.8 562.2,910.8 C564.2,915.8 568.5,931.1 569.4,936 C570.3,940.9 571.4,954.9 571.2,959.4 C571,963.9 568.7,977.6 567.6,981 C566.5,984.4 562.6,991.1 560.4,993.6 C558.2,996.1 548.9,1004.6 546,1006.2 C543.1,1007.8 534.5,1010 531.6,1009.8 C528.7,1009.6 522.4,1003.3 517,1004 C511.6,1004.7 485.8,1010.5 477.6,1017 C469.4,1023.5 441.9,1063.4 434.8,1069 C427.7,1074.6 410.4,1072.9 407,1073 C403.6,1073.1 405.2,1074.3 401,1070 C396.8,1065.7 371.7,1034.7 365,1030 C358.3,1025.3 338.1,1024.8 334,1022.8 C329.9,1020.8 325.4,1022.6 324.4,1010 C323.4,997.4 322.6,908.9 324.4,896.4Z" fill="#fff" stroke="#404846" stroke-width="0"  stroke-linejoin="round" stroke-linecap="round"/>
<path d="M452.4,824.4 C454.8,824.1 460.8,821.7 466.8,822.6 C472.8,823.5 481.2,826.8 488.4,829.8 C495.6,832.8 502.8,835.5 510,840.6 C517.2,845.7 525,852.9 531.6,860.4 C538.2,867.9 544.5,877.2 549.6,885.6 C554.7,894 558.9,902.4 562.2,910.8 C565.5,919.2 567.9,927.9 569.4,936 C570.9,944.1 571.5,951.9 571.2,959.4 C570.9,966.9 569.4,975.3 567.6,981 C565.8,986.7 564,989.4 560.4,993.6 C556.8,997.8 550.8,1003.5 546,1006.2 C541.2,1008.9 534,1009.2 531.6,1009.8" fill="none" stroke="#404846" stroke-width="2.5"  stroke-linejoin="round" stroke-linecap="round"/>
<path d="M480,825 C483.3,827 493.7,833.3 500,837 C506.3,840.7 512.7,842.3 518,847 C523.3,851.7 527.7,859.2 532,865 C536.3,870.8 540,875.8 544,882 C548,888.2 552.5,894.8 556,902 C559.5,909.2 562.7,917 565,925 C567.3,933 569,943.3 570,950 C571,956.7 570.8,962.5 571,965" fill="none" stroke="#404846" stroke-width="3.8"  stroke-linejoin="round" stroke-linecap="round"/>
<line x1="501.2" y1="839.3" x2="499.9" y2="842.2" fill="none" stroke="#404846" stroke-width="1.8"/>
<line x1="505.1" y1="841.1" x2="503.7" y2="844" fill="none" stroke="#404846" stroke-width="1.8"/>
<line x1="508.8" y1="842.9" x2="507.3" y2="845.7" fill="none" stroke="#404846" stroke-width="1.8"/>
<line x1="512.4" y1="844.9" x2="510.8" y2="847.6" fill="none" stroke="#404846" stroke-width="1.8"/>
<line x1="515.7" y1="847.1" x2="513.8" y2="849.6" fill="none" stroke="#404846" stroke-width="1.8"/>
<line x1="518.7" y1="849.7" x2="516.4" y2="851.9" fill="none" stroke="#404846" stroke-width="1.8"/>
<line x1="521.4" y1="852.8" x2="518.9" y2="854.8" fill="none" stroke="#404846" stroke-width="1.8"/>
<line x1="523.9" y1="856.1" x2="521.3" y2="857.9" fill="none" stroke="#404846" stroke-width="1.8"/>
<line x1="526.3" y1="859.5" x2="523.6" y2="861.3" fill="none" stroke="#404846" stroke-width="1.8"/>
<line x1="528.7" y1="862.9" x2="526" y2="864.7" fill="none" stroke="#404846" stroke-width="1.8"/>
<line x1="531.1" y1="866.4" x2="528.6" y2="868.3" fill="none" stroke="#404846" stroke-width="1.8"/>
<line x1="533.6" y1="869.7" x2="531.1" y2="871.6" fill="none" stroke="#404846" stroke-width="1.8"/>
<line x1="536.1" y1="873.1" x2="533.5" y2="875" fill="none" stroke="#404846" stroke-width="1.8"/>
<line x1="538.5" y1="876.5" x2="535.9" y2="878.4" fill="none" stroke="#404846" stroke-width="1.8"/>
<line x1="540.9" y1="880" x2="538.2" y2="881.8" fill="none" stroke="#404846" stroke-width="1.8"/>
<line x1="543.2" y1="883.5" x2="540.5" y2="885.2" fill="none" stroke="#404846" stroke-width="1.8"/>
<line x1="545.5" y1="887" x2="542.8" y2="888.7" fill="none" stroke="#404846" stroke-width="1.8"/>
<line x1="547.7" y1="890.5" x2="545" y2="892.2" fill="none" stroke="#404846" stroke-width="1.8"/>
<line x1="549.9" y1="894.1" x2="547.2" y2="895.7" fill="none" stroke="#404846" stroke-width="1.8"/>
<line x1="552" y1="897.6" x2="549.2" y2="899.2" fill="none" stroke="#404846" stroke-width="1.8"/>
<line x1="554" y1="901.3" x2="551.1" y2="902.8" fill="none" stroke="#404846" stroke-width="1.8"/>
<line x1="555.8" y1="905" x2="552.9" y2="906.4" fill="none" stroke="#404846" stroke-width="1.8"/>
<line x1="557.5" y1="908.8" x2="554.6" y2="910.1" fill="none" stroke="#404846" stroke-width="1.8"/>
<line x1="559.1" y1="912.6" x2="556.1" y2="913.8" fill="none" stroke="#404846" stroke-width="1.8"/>
<line x1="560.6" y1="916.5" x2="557.6" y2="917.6" fill="none" stroke="#404846" stroke-width="1.8"/>
<line x1="562" y1="920.4" x2="559" y2="921.5" fill="none" stroke="#404846" stroke-width="1.8"/>
<line x1="563.3" y1="924.4" x2="560.2" y2="925.3" fill="none" stroke="#404846" stroke-width="1.8"/>
<line x1="564.4" y1="928.4" x2="561.3" y2="929.2" fill="none" stroke="#404846" stroke-width="1.8"/>
<line x1="565.3" y1="932.4" x2="562.2" y2="933.1" fill="none" stroke="#404846" stroke-width="1.8"/>
<line x1="566.2" y1="936.5" x2="563" y2="937.1" fill="none" stroke="#404846" stroke-width="1.8"/>
<line x1="566.9" y1="940.6" x2="563.8" y2="941.2" fill="none" stroke="#404846" stroke-width="1.8"/>
<line x1="567.7" y1="944.7" x2="564.5" y2="945.2" fill="none" stroke="#404846" stroke-width="1.8"/>
<line x1="568.3" y1="948.8" x2="565.1" y2="949.3" fill="none" stroke="#404846" stroke-width="1.8"/>
<line x1="568.9" y1="952.9" x2="565.7" y2="953.3" fill="none" stroke="#404846" stroke-width="1.8"/>
<line x1="569.2" y1="957" x2="566" y2="957.2" fill="none" stroke="#404846" stroke-width="1.8"/>
<line x1="569.4" y1="961.2" x2="566.2" y2="961.3" fill="none" stroke="#404846" stroke-width="1.8"/>
<path d="M324.4,896.4 C327.3,894.5 335.6,888.9 342,885.2 C348.4,881.5 355.3,877.7 362.8,874 C370.3,870.3 379.6,865.7 386.8,862.8 C394,859.9 400.5,858.4 406,856.4 C411.5,854.4 414.3,853.6 420,851 C425.7,848.4 434.6,845.2 440,841 C445.4,836.8 450.3,828.5 452.4,826" fill="none" stroke="#404846" stroke-width="2.2"  stroke-linejoin="round" stroke-linecap="round"/>
<path d="M418,851 Q430,838 454,831 Q457,833 454,836 Q436,843 421,854Z" fill="#6b7270" stroke="none" filter="url(#fst)"/>
<path d="M418,851 Q430,838 454,831 Q457,833 454,836 Q436,843 421,854Z" fill="none" stroke="#404846" stroke-width="1.8"  stroke-linejoin="round" stroke-linecap="round"/>
<path d="M513.6,867.6 C515,866.4 524.2,884.3 528,891 C531.8,897.7 539,910.1 542.4,918 C545.8,925.9 551.3,943.2 553.2,950.4 C555.1,957.6 557.3,965.3 556.8,972 C556.3,978.7 553,996 549.6,1000.8 C546.2,1005.6 535.4,1008 531.6,1008 C527.8,1008 522.5,1007.2 520.8,1000.8 C519.1,994.4 519.5,973.4 519,960 C518.5,946.6 517.9,912.3 517.2,900 C516.5,887.7 512.2,868.8 513.6,867.6Z" fill="#a7acaa" stroke="none" filter="url(#fst)"/>
<path d="M513.6,867.6 C515,866.4 524.2,884.3 528,891 C531.8,897.7 539,910.1 542.4,918 C545.8,925.9 551.3,943.2 553.2,950.4 C555.1,957.6 557.3,965.3 556.8,972 C556.3,978.7 553,996 549.6,1000.8 C546.2,1005.6 535.4,1008 531.6,1008 C527.8,1008 522.5,1007.2 520.8,1000.8 C519.1,994.4 519.5,973.4 519,960 C518.5,946.6 517.9,912.3 517.2,900 C516.5,887.7 512.2,868.8 513.6,867.6Z" fill="none" stroke="#404846" stroke-width="2.2"  stroke-linejoin="round" stroke-linecap="round"/>
<path d="M513,868 C514.8,870 520.2,874.7 524,880 C527.8,885.3 532,893.3 536,900 C540,906.7 544.8,911.7 548,920 C551.2,928.3 553.7,941.3 555,950 C556.3,958.7 555.8,968.3 556,972" fill="none" stroke="#404846" stroke-width="1.6"  stroke-linejoin="round" stroke-linecap="round"/>
<line x1="515.7" y1="867.2" x2="512.2" y2="870.8" fill="none" stroke="#404846" stroke-width="1.5"/>
<line x1="517.7" y1="869.2" x2="514.2" y2="872.8" fill="none" stroke="#404846" stroke-width="1.5"/>
<line x1="519.7" y1="871.2" x2="516.2" y2="874.7" fill="none" stroke="#404846" stroke-width="1.5"/>
<line x1="521.7" y1="873.3" x2="518" y2="876.7" fill="none" stroke="#404846" stroke-width="1.5"/>
<line x1="523.6" y1="875.5" x2="519.8" y2="878.7" fill="none" stroke="#404846" stroke-width="1.5"/>
<line x1="525.5" y1="877.8" x2="521.5" y2="880.8" fill="none" stroke="#404846" stroke-width="1.5"/>
<line x1="527.2" y1="880.2" x2="523" y2="883" fill="none" stroke="#404846" stroke-width="1.5"/>
<line x1="528.7" y1="882.6" x2="524.5" y2="885.2" fill="none" stroke="#404846" stroke-width="1.5"/>
<line x1="530.2" y1="885" x2="525.9" y2="887.6" fill="none" stroke="#404846" stroke-width="1.5"/>
<line x1="531.6" y1="887.5" x2="527.3" y2="890" fill="none" stroke="#404846" stroke-width="1.5"/>
<line x1="533.1" y1="889.9" x2="528.7" y2="892.4" fill="none" stroke="#404846" stroke-width="1.5"/>
<line x1="534.4" y1="892.3" x2="530.1" y2="894.8" fill="none" stroke="#404846" stroke-width="1.5"/>
<line x1="535.8" y1="894.8" x2="531.5" y2="897.3" fill="none" stroke="#404846" stroke-width="1.5"/>
<line x1="537.2" y1="897.2" x2="532.9" y2="899.7" fill="none" stroke="#404846" stroke-width="1.5"/>
<line x1="538.6" y1="899.5" x2="534.4" y2="902.1" fill="none" stroke="#404846" stroke-width="1.5"/>
<line x1="540.1" y1="901.8" x2="536" y2="904.6" fill="none" stroke="#404846" stroke-width="1.5"/>
<line x1="541.7" y1="904.1" x2="537.6" y2="906.9" fill="none" stroke="#404846" stroke-width="1.5"/>
<line x1="543.3" y1="906.4" x2="539.2" y2="909.2" fill="none" stroke="#404846" stroke-width="1.5"/>
<line x1="544.9" y1="908.7" x2="540.7" y2="911.5" fill="none" stroke="#404846" stroke-width="1.5"/>
<line x1="546.4" y1="911.2" x2="542.1" y2="913.7" fill="none" stroke="#404846" stroke-width="1.5"/>
<line x1="547.9" y1="913.7" x2="543.5" y2="916.1" fill="none" stroke="#404846" stroke-width="1.5"/>
<line x1="549.2" y1="916.3" x2="544.6" y2="918.5" fill="none" stroke="#404846" stroke-width="1.5"/>
<line x1="550.3" y1="919.1" x2="545.7" y2="920.9" fill="none" stroke="#404846" stroke-width="1.5"/>
<line x1="551.3" y1="921.8" x2="546.6" y2="923.4" fill="none" stroke="#404846" stroke-width="1.5"/>
<line x1="552.2" y1="924.6" x2="547.4" y2="926" fill="none" stroke="#404846" stroke-width="1.5"/>
<line x1="552.9" y1="927.3" x2="548.1" y2="928.6" fill="none" stroke="#404846" stroke-width="1.5"/>
<line x1="553.6" y1="930.1" x2="548.8" y2="931.3" fill="none" stroke="#404846" stroke-width="1.5"/>
<line x1="554.3" y1="932.9" x2="549.4" y2="934" fill="none" stroke="#404846" stroke-width="1.5"/>
<line x1="554.9" y1="935.6" x2="550" y2="936.7" fill="none" stroke="#404846" stroke-width="1.5"/>
<line x1="555.5" y1="938.4" x2="550.6" y2="939.4" fill="none" stroke="#404846" stroke-width="1.5"/>
<line x1="556" y1="941.2" x2="551.1" y2="942.1" fill="none" stroke="#404846" stroke-width="1.5"/>
<line x1="556.5" y1="944" x2="551.6" y2="944.8" fill="none" stroke="#404846" stroke-width="1.5"/>
<line x1="557" y1="946.8" x2="552.1" y2="947.6" fill="none" stroke="#404846" stroke-width="1.5"/>
<line x1="557.5" y1="949.5" x2="552.5" y2="950.3" fill="none" stroke="#404846" stroke-width="1.5"/>
<line x1="557.8" y1="952.5" x2="552.9" y2="953" fill="none" stroke="#404846" stroke-width="1.5"/>
<line x1="558.1" y1="955.3" x2="553.1" y2="955.7" fill="none" stroke="#404846" stroke-width="1.5"/>
<line x1="558.3" y1="958.2" x2="553.3" y2="958.4" fill="none" stroke="#404846" stroke-width="1.5"/>
<line x1="558.4" y1="961" x2="553.4" y2="961.2" fill="none" stroke="#404846" stroke-width="1.5"/>
<line x1="558.5" y1="963.9" x2="553.5" y2="963.9" fill="none" stroke="#404846" stroke-width="1.5"/>
<line x1="558.5" y1="966.7" x2="553.5" y2="966.7" fill="none" stroke="#404846" stroke-width="1.5"/>
<line x1="558.5" y1="969.5" x2="553.5" y2="969.5" fill="none" stroke="#404846" stroke-width="1.5"/>
<path d="M472,882 L501,863 Q506,864 507,868 Q517,930 516,1001 L477.6,1017 Z" fill="#fff" stroke="#404846" stroke-width="2.2"  stroke-linejoin="round" stroke-linecap="round"/>
<path d="M502.8,866 C503.7,871.7 506.6,886 508,900 C509.4,914 510.7,933.2 511,950 C511.3,966.8 510.2,992.5 510,1001" fill="none" stroke="#404846" stroke-width="1.6"  stroke-linejoin="round" stroke-linecap="round"/>
<polygon points="401.2,940 420,948.6 474,928.8 472,882 470,882" fill="#fff" stroke="#404846" stroke-width="0"  stroke-linejoin="round"/>
<line x1="434.8" y1="952.4" x2="474" y2="929" fill="none" stroke="#404846" stroke-width="2.2"/>
<line x1="407.6" y1="944.4" x2="434.8" y2="952.4" fill="none" stroke="#404846" stroke-width="2"/>
<polygon points="434.8,952.4 474,929 477.5,1040 434.8,1064" fill="#fff" stroke="#404846" stroke-width="2.2"  stroke-linejoin="round"/>
<ellipse cx="456" cy="999" rx="12.6" ry="16" transform="rotate(20 456 999)" fill="#fff" stroke="#404846" stroke-width="2.2"/>
<path d="M452,987 Q462,986 465,995 L456,999Z" fill="#c8cccb" stroke="none" filter="url(#fst)"/>
<polygon points="401.2,939.6 407.6,944.4 434.8,952.4 434.8,1069.2 407.6,1072.4 401.2,1068" fill="#fff" stroke="#404846" stroke-width="2.2"  stroke-linejoin="round"/>
<line x1="407.6" y1="944.4" x2="407.6" y2="1072.4" fill="none" stroke="#404846" stroke-width="1.6"/>
<circle cx="414.8" cy="973.2" r="2.6" fill="#6d7371" stroke="none" filter="url(#fst)"/>
<circle cx="414.8" cy="973.2" r="2.6" fill="none" stroke="#404846" stroke-width="1.5"/>
<circle cx="414.8" cy="1015" r="2.6" fill="#6d7371" stroke="none" filter="url(#fst)"/>
<circle cx="414.8" cy="1015" r="2.6" fill="none" stroke="#404846" stroke-width="1.5"/>
<circle cx="414.8" cy="1057" r="2.6" fill="#6d7371" stroke="none" filter="url(#fst)"/>
<circle cx="414.8" cy="1057" r="2.6" fill="none" stroke="#404846" stroke-width="1.5"/>
<line x1="414.8" y1="973.2" x2="444" y2="1030" fill="none" stroke="#404846" stroke-width="1.5" stroke-dasharray="4,3"/>
<line x1="414.8" y1="1014.8" x2="434" y2="1052" fill="none" stroke="#404846" stroke-width="1.5" stroke-dasharray="4,3"/>
<polygon points="324.4,897.2 334.8,893.2 334.8,1022.8 324.4,1010" fill="#6f7573" stroke="none" filter="url(#fst)"/>
<polygon points="324.4,897.2 334.8,893.2 334.8,1022.8 324.4,1010" fill="none" stroke="#404846" stroke-width="2.2"  stroke-linejoin="round"/>
<polygon points="334.8,893.2 342,891.6 342,1018 334.8,1022.8" fill="#e8eae9" stroke="none" filter="url(#fst)"/>
<polygon points="334.8,893.2 342,891.6 342,1018 334.8,1022.8" fill="none" stroke="#404846" stroke-width="1.8"  stroke-linejoin="round"/>
<polygon points="342,891.6 354.8,891.6 354.8,1016.4 342,1016.4" fill="#9aa09e" stroke="none" filter="url(#fst)"/>
<polygon points="342,891.6 354.8,891.6 354.8,1016.4 342,1016.4" fill="none" stroke="#404846" stroke-width="1.8"  stroke-linejoin="round"/>
<polygon points="354.8,912 366,910 366,1002 354.8,1005" fill="#fff" stroke="#404846" stroke-width="1.5"  stroke-linejoin="round"/>
<polygon points="366,908 375.6,908 375.6,1010 366,1008" fill="#a3a8a6" stroke="none" filter="url(#fst)"/>
<polygon points="366,908 375.6,908 375.6,1010 366,1008" fill="none" stroke="#404846" stroke-width="1.8"  stroke-linejoin="round"/>
<path d="M354.8,892 Q370,890 381,896 L393,906 L416,938 L412,942 L390,912 L378,903 Q368,900 356,902Z" fill="#8e9492" stroke="none" filter="url(#fst)"/>
<path d="M354.8,892 Q370,890 381,896 L393,906 L416,938 L412,942 L390,912 L378,903 Q368,900 356,902Z" fill="none" stroke="#404846" stroke-width="1.8"  stroke-linejoin="round" stroke-linecap="round"/>
<ellipse cx="388.4" cy="960.4" rx="4.5" ry="7" transform="rotate(20 388.4 960.4)" fill="#fff" stroke="#404846" stroke-width="2"/>
<path d="M358,1002 L396.4,994 L399.6,1005.2 L362.8,1016.4Z" fill="#fff" stroke="#404846" stroke-width="1.8"  stroke-linejoin="round" stroke-linecap="round"/>
<polygon points="386,1028 397,1032 399,1052 388,1048" fill="#8e9492" stroke="none" filter="url(#fst)"/>
<polygon points="386,1028 397,1032 399,1052 388,1048" fill="none" stroke="#404846" stroke-width="1.5"  stroke-linejoin="round"/>
<line x1="376" y1="1031" x2="376" y2="1048" fill="none" stroke="#404846" stroke-width="1.9"/>
<ellipse cx="361.2" cy="832.4" rx="22.4" ry="14.2" transform="rotate(-5 361.2 832.4)" fill="#fff" stroke="#404846" stroke-width="2.2"/>
<path d="M352,846 Q361,852 368,845" fill="none" stroke="#404846" stroke-width="2"  stroke-linejoin="round" stroke-linecap="round"/>
<line x1="356" y1="842" x2="372" y2="822" fill="none" stroke="#404846" stroke-width="2"/>
<line x1="352" y1="828" x2="370" y2="836" fill="none" stroke="#404846" stroke-width="2"/>
<line x1="297.5" y1="857.5" x2="348" y2="834" fill="none" stroke="#404846" stroke-width="1.9"/>
<line x1="375.6" y1="818" x2="375.6" y2="848" fill="none" stroke="#404846" stroke-width="1.5"/>
<line x1="384.4" y1="737" x2="384.4" y2="1050" fill="none" stroke="#404846" stroke-width="1.9" stroke-dasharray="7,4"/>
<line x1="506" y1="780" x2="506" y2="838" fill="none" stroke="#404846" stroke-width="1.9"/>
<line x1="310" y1="1044" x2="400" y2="990" fill="none" stroke="#404846" stroke-width="1.5" stroke-dasharray="5,3"/>
<polygon points="228.6,1044.7 228.8,1043.2 229,1041.8 231.7,1034.3 232.3,1033.2 233,1032.2 238.2,1027.7 239.2,1027.3 240.2,1026.9 246.8,1026.4 248,1026.7 249.1,1027 255.9,1030.6 289.9,1051.6 291,1052.4 292,1053.4 297.6,1060.4 298.4,1061.7 299.1,1063.1 302.4,1072 302.8,1073.6 303,1075.2 303.4,1084.3 303.2,1085.8 303,1087.2 300.3,1094.7 299.7,1095.8 299,1096.8 293.8,1101.3 292.8,1101.7 291.8,1102.1 285.2,1102.6 284,1102.3 282.9,1102 276.1,1098.4 242.1,1077.4 241,1076.6 240,1075.6 234.4,1068.6 233.6,1067.3 232.9,1065.9 229.6,1057 229.2,1055.4 229,1053.8" fill="#fff" stroke="#404846" stroke-width="2.2"  stroke-linejoin="round"/>
<line x1="280.1" y1="1097.4" x2="246.1" y2="1076.4" fill="none" stroke="#404846" stroke-width="1.5"/>
<line x1="275.3" y1="1097.7" x2="241.3" y2="1076.7" fill="none" stroke="#404846" stroke-width="3"/>
<line x1="272.7" y1="1091.2" x2="238.7" y2="1070.2" fill="none" stroke="#404846" stroke-width="1.5"/>
<line x1="267.8" y1="1088.6" x2="233.8" y2="1067.6" fill="none" stroke="#404846" stroke-width="3"/>
<line x1="267.4" y1="1081.8" x2="233.4" y2="1060.8" fill="none" stroke="#404846" stroke-width="1.5"/>
<line x1="263.3" y1="1076.7" x2="229.3" y2="1055.7" fill="none" stroke="#404846" stroke-width="3"/>
<line x1="265.2" y1="1071.1" x2="231.2" y2="1050.1" fill="none" stroke="#404846" stroke-width="1.5"/>
<line x1="262.7" y1="1064.5" x2="228.7" y2="1043.5" fill="none" stroke="#404846" stroke-width="3"/>
<line x1="266.5" y1="1061.1" x2="232.5" y2="1040.1" fill="none" stroke="#404846" stroke-width="1.5"/>
<line x1="266.2" y1="1054.4" x2="232.2" y2="1033.4" fill="none" stroke="#404846" stroke-width="3"/>
<line x1="271" y1="1053.9" x2="237" y2="1032.9" fill="none" stroke="#404846" stroke-width="1.5"/>
<line x1="273" y1="1048.4" x2="239" y2="1027.4" fill="none" stroke="#404846" stroke-width="3"/>
<line x1="278" y1="1050.9" x2="244" y2="1029.9" fill="none" stroke="#404846" stroke-width="1.5"/>
<polygon points="298.8,1069.9 300.9,1070.8 302.4,1072 302.8,1073.6 303,1075.2 301.4,1076.6 300.4,1077.8 300.4,1079.1 300.5,1080.4 302.3,1082.4 303.4,1084.3 303.2,1085.8 303,1087.2 300.9,1087.3 299.4,1087.7 299.1,1088.8 298.7,1089.8 299.9,1092.6 300.3,1094.7 299.7,1095.8 299,1096.8 296.8,1095.6 295.3,1095.1 294.6,1095.7 293.8,1096.3 294.1,1099.3 293.8,1101.3 292.8,1101.7 291.8,1102.1 290,1099.8 288.7,1098.5 287.7,1098.6 286.8,1098.6 286.1,1101.2 285.2,1102.6 284,1102.3 282.9,1102 281.9,1099.1 281,1097.2 280,1096.8 279,1096.2 277.5,1097.9 276.1,1098.4 275,1097.6 274,1096.6 273.9,1093.7 273.6,1091.6 272.8,1090.6 272,1089.6 270,1090 268.4,1089.6 267.6,1088.3 266.9,1086.9 267.8,1084.5 268.2,1082.7 267.7,1081.4 267.2,1080.1 265.1,1079.2 263.6,1078 263.2,1076.4 263,1074.8 264.6,1073.4 265.6,1072.2 265.6,1070.9 265.5,1069.6 263.7,1067.6 262.6,1065.7 262.8,1064.2 263,1062.8 265.1,1062.7 266.6,1062.3 266.9,1061.2 267.3,1060.2 266.1,1057.4 265.7,1055.3 266.3,1054.2 267,1053.2 269.2,1054.4 270.7,1054.9 271.4,1054.3 272.2,1053.7 271.9,1050.7 272.2,1048.7 273.2,1048.3 274.2,1047.9 276,1050.2 277.3,1051.5 278.3,1051.4 279.2,1051.4 279.9,1048.8 280.8,1047.4 282,1047.7 283.1,1048 284.1,1050.9 285,1052.8 286,1053.2 287,1053.8 288.5,1052.1 289.9,1051.6 291,1052.4 292,1053.4 292.1,1056.3 292.4,1058.4 293.2,1059.4 294,1060.4 296,1060 297.6,1060.4 298.4,1061.7 299.1,1063.1 298.2,1065.5 297.8,1067.3 298.3,1068.6" fill="#fff" stroke="#404846" stroke-width="2"  stroke-linejoin="round"/>
<path d="M274,1068 Q280,1062 288,1066 L292,1086 Q286,1092 278,1089 Z" fill="#fff" stroke="#404846" stroke-width="1.9"  stroke-linejoin="round" stroke-linecap="round"/>
<line x1="254" y1="1016.5" x2="254" y2="1030" fill="none" stroke="#404846" stroke-width="1.9"/>
<path d="M310.3,1056.3 L320.3,1049.3 L315.7,1042.7 L305.7,1049.7 A2,4 -35 0 0 310.3,1056.3Z" fill="#fff" stroke="#404846" stroke-width="1.8"  stroke-linejoin="round" stroke-linecap="round"/>
<ellipse cx="318" cy="1046" rx="2" ry="4" transform="rotate(-35 318 1046)" fill="#fff" stroke="#404846" stroke-width="1.8"/>
<line x1="309.5" y1="1004.5" x2="309.5" y2="1042" fill="none" stroke="#404846" stroke-width="1.9"/>
<line x1="358.5" y1="1036" x2="358.5" y2="1068" fill="none" stroke="#404846" stroke-width="2"/>
<path d="M349,1075 Q349,1067.5 362.5,1067.5 Q376.5,1067.5 376.5,1075 L376.5,1134 Q376.5,1142 362.5,1142 Q349,1142 349,1134Z" fill="#3b4341" stroke="#404846" stroke-width="1.8"  stroke-linejoin="round" stroke-linecap="round"/>
<line x1="351" y1="1074.5" x2="376" y2="1074.5" fill="none" stroke="#59625f" stroke-width="1"/>
<line x1="351" y1="1079.5" x2="376" y2="1079.5" fill="none" stroke="#59625f" stroke-width="1"/>
<line x1="351" y1="1084.5" x2="376" y2="1084.5" fill="none" stroke="#59625f" stroke-width="1"/>
<line x1="351" y1="1089.5" x2="376" y2="1089.5" fill="none" stroke="#59625f" stroke-width="1"/>
<line x1="351" y1="1094.5" x2="376" y2="1094.5" fill="none" stroke="#59625f" stroke-width="1"/>
<line x1="351" y1="1099.5" x2="376" y2="1099.5" fill="none" stroke="#59625f" stroke-width="1"/>
<line x1="351" y1="1104.5" x2="376" y2="1104.5" fill="none" stroke="#59625f" stroke-width="1"/>
<line x1="351" y1="1109.5" x2="376" y2="1109.5" fill="none" stroke="#59625f" stroke-width="1"/>
<line x1="351" y1="1114.5" x2="376" y2="1114.5" fill="none" stroke="#59625f" stroke-width="1"/>
<line x1="351" y1="1119.5" x2="376" y2="1119.5" fill="none" stroke="#59625f" stroke-width="1"/>
<line x1="351" y1="1124.5" x2="376" y2="1124.5" fill="none" stroke="#59625f" stroke-width="1"/>
<line x1="351" y1="1129.5" x2="376" y2="1129.5" fill="none" stroke="#59625f" stroke-width="1"/>
<line x1="351" y1="1134.5" x2="376" y2="1134.5" fill="none" stroke="#59625f" stroke-width="1"/>
<line x1="363" y1="1142" x2="363" y2="1172" fill="none" stroke="#404846" stroke-width="1.4" stroke-dasharray="2.5,2"/>
<path d="M352,1150 Q356,1146 363,1146 Q376,1146.5 376,1154.5 Q376,1162.5 363,1163 Q351,1162.5 350.5,1156" fill="none" stroke="#404846" stroke-width="2.2"  stroke-linejoin="round" stroke-linecap="round"/>
<line x1="305" y1="1181.5" x2="351" y2="1157" fill="none" stroke="#404846" stroke-width="1.9"/>
<path d="M354.5,1175 Q362.5,1171 371,1175 L371,1195 L354.5,1195Z" fill="#a9afad" stroke="none" filter="url(#fst)"/>
<path d="M354.5,1175 Q362.5,1171 371,1175 L371,1195 L354.5,1195Z" fill="none" stroke="#404846" stroke-width="2"  stroke-linejoin="round" stroke-linecap="round"/>
<path d="M346.5,1199 L346.5,1203 Q349,1209.5 363,1209.5 Q377,1209.5 380,1203 L380,1199" fill="#fff" stroke="#404846" stroke-width="2"  stroke-linejoin="round" stroke-linecap="round"/>
<ellipse cx="363" cy="1198.5" rx="17" ry="8.5" fill="#fff" stroke="#404846" stroke-width="2.2"/>
<ellipse cx="363" cy="1196.5" rx="8.5" ry="3.8" fill="#fff" stroke="#404846" stroke-width="1.4"/>
<line x1="311" y1="1219" x2="348" y2="1203" fill="none" stroke="#404846" stroke-width="1.9"/>
<ellipse cx="444" cy="1036" rx="4.8" ry="6.5" transform="rotate(-25 444 1036)" fill="#3e4644" stroke="#404846" stroke-width="1.5"/>
<ellipse cx="442" cy="1031" rx="3.5" ry="3" fill="#b0b5b3" stroke="none" filter="url(#fst)"/>
<ellipse cx="442" cy="1031" rx="3.5" ry="3" fill="none" stroke="#404846" stroke-width="1"/>
<ellipse cx="458" cy="1064.5" rx="7" ry="6.3" fill="#3e4644" stroke="#404846" stroke-width="1.8"/>
<ellipse cx="458" cy="1064.5" rx="3.1" ry="2.4" fill="#9ea3a1" stroke="none" filter="url(#fst)"/>
<ellipse cx="458" cy="1064.5" rx="3.1" ry="2.4" fill="none" stroke="#404846" stroke-width="1"/>
<ellipse cx="443.5" cy="1076" rx="7.5" ry="6.8" fill="#3e4644" stroke="#404846" stroke-width="1.8"/>
<ellipse cx="443.5" cy="1076" rx="3.4" ry="2.6" fill="#9ea3a1" stroke="none" filter="url(#fst)"/>
<ellipse cx="443.5" cy="1076" rx="3.4" ry="2.6" fill="none" stroke="#404846" stroke-width="1"/>
<ellipse cx="457" cy="1148" rx="7.5" ry="6.8" fill="#3e4644" stroke="#404846" stroke-width="1.8"/>
<ellipse cx="457" cy="1148" rx="3.4" ry="2.6" fill="#9ea3a1" stroke="none" filter="url(#fst)"/>
<ellipse cx="457" cy="1148" rx="3.4" ry="2.6" fill="none" stroke="#404846" stroke-width="1"/>
<ellipse cx="459.5" cy="1111" rx="7" ry="7.5" fill="#fff" stroke="#404846" stroke-width="2.2"/>
<ellipse cx="459.5" cy="1113" rx="3.5" ry="3" fill="#fff" stroke="#404846" stroke-width="1.5"/>
<path d="M452,1106 L451,1100 Q454,1096 457,1098 L459,1104" fill="none" stroke="#404846" stroke-width="1.9"  stroke-linejoin="round" stroke-linecap="round"/>
<path d="M440,1113 L446,1110 L449,1121 L443,1125Z" fill="#3e4644" stroke="#404846" stroke-width="1.5"  stroke-linejoin="round" stroke-linecap="round"/>
<line x1="465" y1="1104" x2="484" y2="1094" fill="none" stroke="#404846" stroke-width="1.9"/>
<line x1="465" y1="1145" x2="484" y2="1136" fill="none" stroke="#404846" stroke-width="1.9"/>
<line x1="427" y1="1128" x2="442" y2="1118" fill="none" stroke="#404846" stroke-width="1.9"/>
<line x1="447" y1="1072" x2="455" y2="1097" fill="none" stroke="#404846" stroke-width="1.5" stroke-dasharray="3,2"/>
<line x1="414.5" y1="1057" x2="445" y2="1113" fill="none" stroke="#404846" stroke-width="1.5" stroke-dasharray="3,2"/>
<line x1="446" y1="1124" x2="455" y2="1141" fill="none" stroke="#404846" stroke-width="1.5" stroke-dasharray="3,2"/>
<line x1="446" y1="1040" x2="456" y2="1058" fill="none" stroke="#404846" stroke-width="1.5" stroke-dasharray="3,2"/>
<path d="M492.8,1038.2 L573.8,1079.2 L582.2,1062.8 L501.2,1021.8 A4.5,9.2 26.8 0 0 492.8,1038.2Z" fill="#d8dcda" stroke="none" filter="url(#fst)"/>
<path d="M492.8,1038.2 L573.8,1079.2 L582.2,1062.8 L501.2,1021.8 A4.5,9.2 26.8 0 0 492.8,1038.2Z" fill="none" stroke="#404846" stroke-width="2.2"  stroke-linejoin="round" stroke-linecap="round"/>
<ellipse cx="578" cy="1071" rx="4.5" ry="9.2" transform="rotate(26.8 578 1071)" fill="#fff" stroke="#404846" stroke-width="2.2"/>
<path d="M575.6,1075.4 L595.6,1086.4 L600.4,1077.6 L580.4,1066.6 A2.5,5 28.8 0 0 575.6,1075.4Z" fill="#fff" stroke="#404846" stroke-width="2"  stroke-linejoin="round" stroke-linecap="round"/>
<ellipse cx="598" cy="1082" rx="2.5" ry="5" transform="rotate(28.8 598 1082)" fill="#fff" stroke="#404846" stroke-width="2"/>
<path d="M497,1030 Q492,1024 500,1021" fill="none" stroke="#404846" stroke-width="1.5"  stroke-linejoin="round" stroke-linecap="round"/>
<line x1="589.6" y1="1009" x2="589.6" y2="1067.5" fill="none" stroke="#404846" stroke-width="1.9"/>
<path d="M597.8,1103.8 L630.8,1122.8 L651.2,1087.2 L618.2,1068.2 A15,20.5 29.9 0 0 597.8,1103.8Z" fill="#eceeed" stroke="none" filter="url(#fst)"/>
<path d="M597.8,1103.8 L630.8,1122.8 L651.2,1087.2 L618.2,1068.2 A15,20.5 29.9 0 0 597.8,1103.8Z" fill="none" stroke="#404846" stroke-width="2.2"  stroke-linejoin="round" stroke-linecap="round"/>
<ellipse cx="641" cy="1105" rx="15" ry="20.5" transform="rotate(29.9 641 1105)" fill="#fff" stroke="#404846" stroke-width="2.2"/>
<ellipse cx="642" cy="1106" rx="15.5" ry="21.5" transform="rotate(28 642 1106)" fill="#fff" stroke="#404846" stroke-width="2.2"/>
<path d="M606,1104 L614,1100 L618,1110 L610,1114Z" fill="#fff" stroke="#404846" stroke-width="1.6"  stroke-linejoin="round" stroke-linecap="round"/>
<line x1="634" y1="1040.5" x2="634" y2="1073.5" fill="none" stroke="#404846" stroke-width="1.9"/>
<circle cx="664" cy="1073.5" r="5" fill="#fff" stroke="#404846" stroke-width="1.8"/>
<line x1="664" y1="1043.5" x2="664" y2="1068" fill="none" stroke="#404846" stroke-width="1.9"/>
<polygon points="224.5,1441 396,1540 408,1555 428,1563 428,1621 224.5,1501" fill="#a3a8a6" stroke="none" filter="url(#fst)"/>
<polyline points="224.5,1441 224.5,1501 428,1621" fill="none" stroke="#404846" stroke-width="2.5"  stroke-linejoin="round"/>
<polygon points="225,1438 396,1538 393,1543 225,1444.5" fill="#fff" stroke="#404846" stroke-width="1.8"  stroke-linejoin="round"/>
<polygon points="441,1562 470,1546.5 580,1478.5 700,1410 833.5,1338.5 835.7,1393.5 441,1621" fill="#eeefee" stroke="none" filter="url(#fst)"/>
<polygon points="441,1562 470,1546.5 580,1478.5 700,1410 833.5,1338.5 835.7,1393.5 441,1621" fill="none" stroke="#404846" stroke-width="2.5"  stroke-linejoin="round"/>
<path d="M428,1562 L428,1620 Q435,1627 441,1621 L441,1562 Q434,1558 428,1562Z" fill="#f6f7f6" stroke="none" filter="url(#fst)"/>
<path d="M428,1562 L428,1620 Q435,1627 441,1621 L441,1562 Q434,1558 428,1562Z" fill="none" stroke="#404846" stroke-width="2.2"  stroke-linejoin="round" stroke-linecap="round"/>
<polygon points="623.4,1209.4 826,1328 830.5,1331.5 833.5,1338.5 700,1410 580,1478.5 470,1546.5 441,1562 428,1562 408,1553 396,1538 225,1438 530,1260.8" fill="#fff" stroke="#404846" stroke-width="2.5"  stroke-linejoin="round"/>
<polyline points="441,1555 470,1539 580,1471 700,1402 830.5,1331.5" fill="none" stroke="#404846" stroke-width="1.9"  stroke-linejoin="round"/>
<path d="M407.0,1533.0 L470.0,1500.5 L580.0,1433.6 L713.0,1360.5 Q720,1362 719,1369 L716.0,1371.0 L580.0,1450.0 L470.0,1513.0 L412.0,1545.0 Z" fill="#fff" stroke="#404846" stroke-width="1.9"  stroke-linejoin="round" stroke-linecap="round"/>
<line x1="413" y1="1541" x2="469" y2="1509" fill="none" stroke="#4d5553" stroke-width="5.5" stroke-dasharray="1.7,1.9"/>
<line x1="471" y1="1509" x2="579" y2="1446" fill="none" stroke="#4d5553" stroke-width="5.5" stroke-dasharray="1.7,1.9"/>
<line x1="581" y1="1446" x2="715" y2="1367" fill="none" stroke="#4d5553" stroke-width="5.5" stroke-dasharray="1.7,1.9"/>
<polygon points="414,1548 470,1519.8 580,1455.2 735,1368 739,1376 580,1464.8 470,1531.2 420,1556" fill="#2f3634" stroke="#404846" stroke-width="1.5"  stroke-linejoin="round"/>
<line x1="422" y1="1552.8" x2="468" y2="1528" fill="none" stroke="#e4e7e6" stroke-width="3.5" stroke-dasharray="3.5,7.5"/>
<line x1="472" y1="1528" x2="578" y2="1461.6" fill="none" stroke="#e4e7e6" stroke-width="3.5" stroke-dasharray="3.5,7.5"/>
<line x1="582" y1="1461.6" x2="737" y2="1372.8" fill="none" stroke="#e4e7e6" stroke-width="3.5" stroke-dasharray="3.5,7.5"/>
<path d="M394,1553 L402,1549 L408,1556 L404,1562 Z" fill="#fff" stroke="#404846" stroke-width="1.5"  stroke-linejoin="round" stroke-linecap="round"/>
<ellipse cx="591.2" cy="1291.2" rx="16.8" ry="10.4" fill="#fff" stroke="#404846" stroke-width="2.1"/>
<ellipse cx="591.5" cy="1293.5" rx="12" ry="6.5" fill="#fff" stroke="#404846" stroke-width="1.4"/>
<line x1="580" y1="1297" x2="600" y2="1287" fill="none" stroke="#404846" stroke-width="1.4"/>
<ellipse cx="685.8" cy="1293.4" rx="26.8" ry="15.6" fill="#fff" stroke="#404846" stroke-width="2.1"/>
<path d="M692,1278.8 Q710,1282 712,1293 Q709,1305 690,1308.5 Q699,1293 692,1278.8Z" fill="#c9cecc" stroke="none" filter="url(#fst)"/>
<ellipse cx="690.4" cy="1348" rx="16.4" ry="9.6" fill="#fff" stroke="#404846" stroke-width="2.1"/>
<ellipse cx="690.4" cy="1345.5" rx="12.5" ry="5.5" fill="#fff" stroke="#404846" stroke-width="1.4"/>
<ellipse cx="417" cy="1449" rx="14" ry="8" fill="#fff" stroke="#404846" stroke-width="2.1"/>
<ellipse cx="417" cy="1447" rx="10" ry="4.8" fill="#fff" stroke="#404846" stroke-width="1.4"/>
<ellipse cx="381" cy="1380.5" rx="3.2" ry="2.4" fill="#4a5250" stroke="#404846" stroke-width="1"/>
<ellipse cx="295" cy="1430" rx="3.2" ry="2.4" fill="#4a5250" stroke="#404846" stroke-width="1"/>
<line x1="679" y1="1424" x2="766" y2="1475" fill="none" stroke="#404846" stroke-width="1.9"/>
<line x1="550" y1="1486" x2="707" y2="1581" fill="none" stroke="#404846" stroke-width="1.9"/>
<path d="M791.1,1257.7 L762.1,1273.7 L767.9,1284.3 L796.9,1268.3 A4,6 151.1 0 0 791.1,1257.7Z" fill="#fff" stroke="#404846" stroke-width="2"  stroke-linejoin="round" stroke-linecap="round"/>
<ellipse cx="765" cy="1279" rx="4" ry="6" transform="rotate(151.1 765 1279)" fill="#3a4240" stroke="#404846" stroke-width="2"/>
<line x1="794" y1="1262" x2="845.6" y2="1235" fill="none" stroke="#404846" stroke-width="1.6"/>
<line x1="685" y1="922" x2="685" y2="1294" fill="none" stroke="#404846" stroke-width="1.9" stroke-dasharray="9,4"/>
<path d="M479.7,1251.1 L609.7,1132.1 L602.3,1123.9 L472.3,1242.9 A3,5.5 -42.5 0 0 479.7,1251.1Z" fill="#fff" stroke="#404846" stroke-width="2"  stroke-linejoin="round" stroke-linecap="round"/>
<ellipse cx="606" cy="1128" rx="3" ry="5.5" transform="rotate(-42.5 606 1128)" fill="#fff" stroke="#404846" stroke-width="2"/>
<path d="M466,1251 L476,1240 L483,1248 L472,1258Z" fill="#fff" stroke="#404846" stroke-width="1.8"  stroke-linejoin="round" stroke-linecap="round"/>
<circle cx="445" cy="1266" r="25.5" fill="#fff" stroke="#404846" stroke-width="2.2"/>
<path d="M428,1250 Q440,1243 452,1246" fill="none" stroke="#404846" stroke-width="0"  stroke-linejoin="round" stroke-linecap="round"/>
<line x1="590.5" y1="1144" x2="614.5" y2="1159" fill="none" stroke="#404846" stroke-width="1.9"/>
<line x1="425.5" y1="1240" x2="454" y2="1256.5" fill="none" stroke="#404846" stroke-width="1.9"/>
<polygon points="28.4,1535 185.2,1627.4 185.2,1648.4 29.8,1555" fill="#a8adab" stroke="none" filter="url(#fst)"/>
<polygon points="28.4,1535 185.2,1627.4 185.2,1648.4 29.8,1555" fill="none" stroke="#404846" stroke-width="2.2"  stroke-linejoin="round"/>
<polygon points="28.4,1535 62,1514 216,1603 185.2,1627.4" fill="#fff" stroke="#404846" stroke-width="2"  stroke-linejoin="round"/>
<polygon points="184.3,1626.3 222.8,1606.5 267.9,1630.7 231.6,1652.7 184.3,1636.2" fill="#fff" stroke="#404846" stroke-width="2"  stroke-linejoin="round"/>
<polygon points="184.3,1636.2 231.6,1652.7 231.6,1671.4 196.4,1656 186,1650" fill="#b4b9b7" stroke="none" filter="url(#fst)"/>
<polygon points="184.3,1636.2 231.6,1652.7 231.6,1671.4 196.4,1656 186,1650" fill="none" stroke="#404846" stroke-width="2"  stroke-linejoin="round"/>
<polygon points="231.6,1652.7 267.9,1630.7 269,1651.6 231.6,1671.4" fill="#fff" stroke="#404846" stroke-width="2.2"  stroke-linejoin="round"/>
<path d="M191,1627 Q193,1611 222.8,1608.7" fill="none" stroke="#404846" stroke-width="1.8"  stroke-linejoin="round" stroke-linecap="round"/>
<path d="M195.3,1627 Q205,1617 221.7,1617.5" fill="none" stroke="#404846" stroke-width="1.6"  stroke-linejoin="round" stroke-linecap="round"/>
<path d="M200,1638 Q215,1646 236,1641 Q246,1637 249.2,1631" fill="none" stroke="#404846" stroke-width="1.8"  stroke-linejoin="round" stroke-linecap="round"/>
<path d="M247,1630 Q252,1622 260,1625 L267.9,1630.7" fill="none" stroke="#404846" stroke-width="1.8"  stroke-linejoin="round" stroke-linecap="round"/>
<ellipse cx="221.7" cy="1635.1" rx="6.6" ry="3.5" fill="#fff" stroke="#404846" stroke-width="1.5"/>
<line x1="221" y1="1645" x2="221.5" y2="1657" fill="none" stroke="#404846" stroke-width="2.5"/>
<line x1="222" y1="1597" x2="222" y2="1640" fill="none" stroke="#404846" stroke-width="1.4"/>
<path d="M216,1560 L216,1595 Q222,1598 229,1595 L229,1560Z" fill="#a9afad" stroke="none" filter="url(#fst)"/>
<path d="M216,1560 L216,1595 Q222,1598 229,1595 L229,1560Z" fill="none" stroke="#404846" stroke-width="1.9"  stroke-linejoin="round" stroke-linecap="round"/>
<path d="M196.5,1541 L196.5,1547 Q200,1558 221.6,1559 Q243,1558 246.8,1547 L246.8,1541" fill="#383f3d" stroke="#404846" stroke-width="2"  stroke-linejoin="round" stroke-linecap="round"/>
<ellipse cx="221.6" cy="1540.6" rx="25.2" ry="15" fill="#fff" stroke="#404846" stroke-width="2.2"/>
<line x1="112.4" y1="1617.6" x2="213.2" y2="1561.6" fill="none" stroke="#404846" stroke-width="1.8"/>
<line x1="112.4" y1="1679" x2="179.6" y2="1642.8" fill="none" stroke="#404846" stroke-width="1.8"/>
<line x1="112.4" y1="1752" x2="202" y2="1701.6" fill="none" stroke="#404846" stroke-width="1.8"/>
<line x1="268" y1="1629" x2="398" y2="1555" fill="none" stroke="#404846" stroke-width="1.5"/>
<line x1="62" y1="1514" x2="222" y2="1606" fill="none" stroke="#404846" stroke-width="1.6"/>
<path d="M216.3,1704.9 L235.5,1696.4 A9.5,9.5 0 0 0 227.7,1679.1 L208.5,1687.6 A9.5,9.5 0 0 0 216.3,1704.9 Z" fill="#d5d9d7" stroke="none" filter="url(#fst)"/>
<path d="M216.3,1704.9 L235.5,1696.4 A9.5,9.5 0 0 0 227.7,1679.1 L208.5,1687.6 A9.5,9.5 0 0 0 216.3,1704.9 Z" fill="none" stroke="#404846" stroke-width="2.2"  stroke-linejoin="round" stroke-linecap="round"/>
<ellipse cx="225" cy="1689" rx="4" ry="3" fill="#fff" stroke="#404846" stroke-width="1.5"/></g><text transform="translate(836 747.8) scale(1.0 1)" font-family="Liberation Sans, sans-serif" font-size="33" letter-spacing="2.6" fill="#111" >28</text>
<text transform="translate(928.3 849.2) scale(1.0 1)" font-family="Liberation Sans, sans-serif" font-size="33" letter-spacing="2.6" fill="#111" >30</text>
<text transform="translate(923 979.2) scale(1.0 1)" font-family="Liberation Sans, sans-serif" font-size="33" letter-spacing="2.6" fill="#111" >29</text></svg></body></html>
